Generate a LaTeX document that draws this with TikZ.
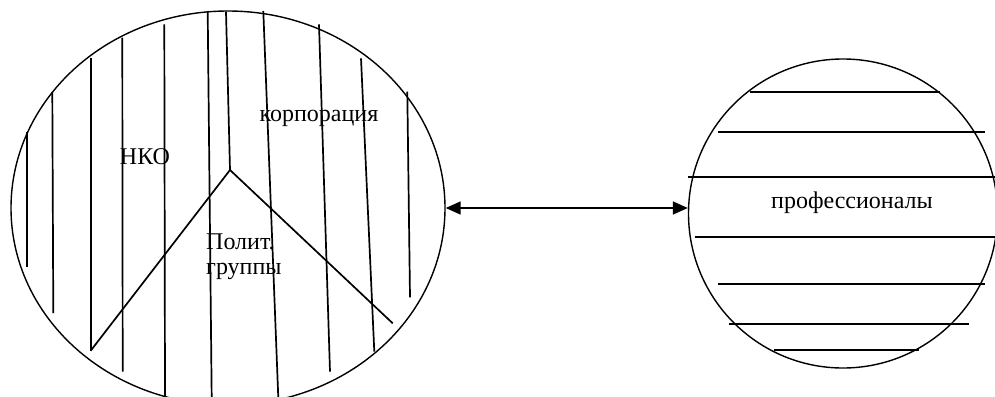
\documentclass[tikz,border=0pt]{standalone}
\usepackage{fontspec}
\setmainfont{Liberation Serif}
\usetikzlibrary{shapes.geometric,arrows.meta}
\tikzset{
  hatch/.style={line width=1.7pt},
  rim/.style={draw, line width=1.4pt, inner sep=0pt},
  lbl/.style={font=\fontsize{24}{25}\selectfont, inner sep=0pt},
  arr/.style={line width=1.7pt, {Triangle[length=15pt,width=13pt]}-{Triangle[length=15pt,width=13pt]}}
}
\begin{document}
\begin{tikzpicture}[x=1pt,y=-1pt]
\useasboundingbox (0,0) rectangle (995,396);
\clip (0,0) rectangle (995,396);
% left ellipse
\node[rim, ellipse, minimum width=434pt, minimum height=394pt] (L) at (228,208) {};
% vertical hatch lines
\draw[hatch] (26.7,132) -- (26.7,267);
\draw[hatch] (52.3,92) -- (53.3,313);
\draw[hatch] (90.7,58) -- (90.7,350.7);
\draw[hatch] (122.3,37.7) -- (122.7,371.7);
\draw[hatch] (164.3,24.3) -- (165,398);
\draw[hatch] (207.7,11) -- (211.7,398);
\draw[hatch] (226,11.7) -- (230,170);
\draw[hatch] (263.3,11) -- (278.3,398);
\draw[hatch] (319,24.3) -- (330,371.7);
\draw[hatch] (361,58.3) -- (374.3,351.7);
\draw[hatch] (407.3,91.7) -- (410,297.3);
% V shape
\draw[hatch] (90.7,350.7) -- (230,170) -- (392.7,323.3);
% labels left
\node[lbl] (nko) at (145,157) {НКО};
\node[lbl] (korp) at (319,118) {корпорация};
\node[lbl, anchor=west, align=left] (polit) at (206,257) {Полит.\\группы};
% right circle
\node[rim, circle, minimum size=309pt] (R) at (843,213.5) {};
\draw[hatch] (750,92.3) -- (940,92.3);
\draw[hatch] (718,132.3) -- (985,132.3);
\draw[hatch] (688,177.3) -- (997,177.3);
\draw[hatch] (695,236.7) -- (997,236.7);
\draw[hatch] (718,284.3) -- (985,284.3);
\draw[hatch] (729,324.3) -- (969,324.3);
\draw[hatch] (774,350) -- (919,350);
\node[lbl] (prof) at (852,203) {профессионалы};
% arrow
\draw[arr] (L.east) -- (L.east -| R.west);
\end{tikzpicture}
\end{document}
